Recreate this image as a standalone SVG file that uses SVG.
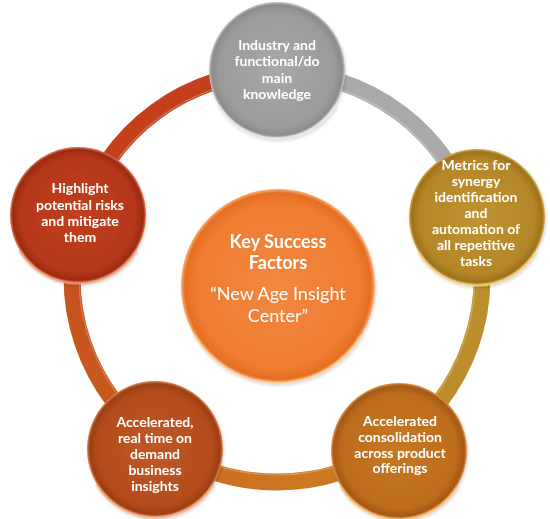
<svg xmlns="http://www.w3.org/2000/svg" width="550" height="519" viewBox="0 0 550 519">
<defs>
  <radialGradient id="gGray" cx="50%" cy="50%" r="50%">
    <stop offset="0" stop-color="#a8a8a8"/>
    <stop offset="0.85" stop-color="#9b9b9b"/>
    <stop offset="0.96" stop-color="#8c8c8c"/>
    <stop offset="1" stop-color="#c8c8c8"/>
  </radialGradient>
  <radialGradient id="gGold" cx="50%" cy="50%" r="50%">
    <stop offset="0" stop-color="#bf9432"/>
    <stop offset="0.85" stop-color="#b48628"/>
    <stop offset="0.96" stop-color="#9e721c"/>
    <stop offset="1" stop-color="#d8b050"/>
  </radialGradient>
  <radialGradient id="gBR" cx="50%" cy="50%" r="50%">
    <stop offset="0" stop-color="#c67824"/>
    <stop offset="0.85" stop-color="#bc6c1c"/>
    <stop offset="0.96" stop-color="#a65814"/>
    <stop offset="1" stop-color="#e09a50"/>
  </radialGradient>
  <radialGradient id="gBL" cx="50%" cy="50%" r="50%">
    <stop offset="0" stop-color="#bf5824"/>
    <stop offset="0.85" stop-color="#b44c1c"/>
    <stop offset="0.96" stop-color="#9c3e12"/>
    <stop offset="1" stop-color="#de8a5a"/>
  </radialGradient>
  <radialGradient id="gLeft" cx="50%" cy="50%" r="50%">
    <stop offset="0" stop-color="#c04020"/>
    <stop offset="0.85" stop-color="#b4371a"/>
    <stop offset="0.96" stop-color="#9c2b10"/>
    <stop offset="1" stop-color="#de7a5a"/>
  </radialGradient>
  <radialGradient id="gCenter" cx="50%" cy="50%" r="50%">
    <stop offset="0" stop-color="#f28842"/>
    <stop offset="0.85" stop-color="#ef7c30"/>
    <stop offset="0.96" stop-color="#e56e22"/>
    <stop offset="1" stop-color="#f8b074"/>
  </radialGradient>
  <linearGradient id="aBottom" gradientUnits="userSpaceOnUse" x1="394" y1="445" x2="158" y2="444">
    <stop offset="0" stop-color="#c9801f"/>
    <stop offset="1" stop-color="#d06a1f"/>
  </linearGradient>
  <linearGradient id="aLeftLow" gradientUnits="userSpaceOnUse" x1="158" y1="444" x2="81" y2="216">
    <stop offset="0" stop-color="#c95c1f"/>
    <stop offset="1" stop-color="#c5501d"/>
  </linearGradient>
  <linearGradient id="aRightLow" gradientUnits="userSpaceOnUse" x1="473" y1="218" x2="394" y2="445">
    <stop offset="0" stop-color="#b8922e"/>
    <stop offset="1" stop-color="#c08a28"/>
  </linearGradient>
  <filter id="sh" x="-20%" y="-20%" width="140%" height="140%">
    <feDropShadow dx="1" dy="1.5" stdDeviation="1.5" flood-color="#000" flood-opacity="0.18"/>
  </filter>
</defs>
<style>
  .arc { fill: none; stroke-width: 17; }
  .hl { fill: none; stroke-width: 1.2; stroke: #ffffff; opacity: 0.25; }
  .node { filter: url(#sh); }
  .rim { fill: none; stroke-width: 2.5; stroke-linecap: round; opacity: 0.75; }
  .t { font-family: Lato, "Open Sans", "Liberation Sans", sans-serif; font-weight: bold; font-size: 14px; fill: #ffffff; text-anchor: middle; }
  .ct { font-family: Lato, "Open Sans", "Liberation Sans", sans-serif; font-size: 18px; fill: #ffffff; text-anchor: middle; }
</style>
<g id="connectors">
  <path class="arc" stroke="#a9a9a9" d="M277,72 A205,205 0 0 1 473.4,218.1"/>
  <path class="arc" stroke="url(#aRightLow)" d="M473.4,218.1 A205,205 0 0 1 394.6,444.9"/>
  <path class="arc" stroke="url(#aBottom)" d="M394.6,444.9 A205,205 0 0 1 158.2,444.1"/>
  <path class="arc" stroke="url(#aLeftLow)" d="M158.2,444.1 A205,205 0 0 1 81.3,216"/>
  <path class="arc" stroke="#c4401c" d="M81.3,216 A205,205 0 0 1 277,72"/>
  <circle class="hl" cx="277" cy="277" r="198"/>
</g>
<g id="center" class="node">
  <circle cx="278" cy="286" r="97" fill="url(#gCenter)"/>
  <path class="rim" stroke="#fcd0a0" d="M195,336 A97,97 0 0 0 361,336"/>
  <text class="ct" font-weight="bold" x="278" y="248">Key Success</text>
  <text class="ct" font-weight="bold" x="278" y="269">Factors</text>
  <text class="ct" x="278" y="300">“New Age Insight</text>
  <text class="ct" x="278" y="322">Center”</text>
</g>
<g id="node-top" class="node">
  <circle cx="277" cy="70" r="68" fill="url(#gGray)"/>
  <path class="rim" stroke="#e4e4e4" d="M219,106 A68,68 0 0 0 335,106"/>
  <text class="t" x="277" y="50">Industry and</text>
  <text class="t" x="277" y="66.3">functional/do</text>
  <text class="t" x="277" y="82.6">main</text>
  <text class="t" x="277" y="99">knowledge</text>
</g>
<g id="node-right" class="node">
  <circle cx="477" cy="217" r="68" fill="url(#gGold)"/>
  <path class="rim" stroke="#f0d080" d="M419,253 A68,68 0 0 0 535,253"/>
  <text class="t" x="476" y="170">Metrics for</text>
  <text class="t" x="476" y="186">synergy</text>
  <text class="t" x="476" y="202">identification</text>
  <text class="t" x="476" y="218">and</text>
  <text class="t" x="476" y="234">automation of</text>
  <text class="t" x="476" y="250">all repetitive</text>
  <text class="t" x="476" y="266">tasks</text>
</g>
<g id="node-bottom-right" class="node">
  <circle cx="399" cy="451" r="68" fill="url(#gBR)"/>
  <path class="rim" stroke="#f4bc70" d="M341,487 A68,68 0 0 0 457,487"/>
  <text class="t" x="400" y="426">Accelerated</text>
  <text class="t" x="400" y="442">consolidation</text>
  <text class="t" x="400" y="457.5">across product</text>
  <text class="t" x="400" y="473">offerings</text>
</g>
<g id="node-bottom-left" class="node">
  <circle cx="155" cy="449" r="68" fill="url(#gBL)"/>
  <path class="rim" stroke="#f0a878" d="M97,485 A68,68 0 0 0 213,485"/>
  <text class="t" x="155" y="427">Accelerated,</text>
  <text class="t" x="155" y="443">real time on</text>
  <text class="t" x="155" y="459">demand</text>
  <text class="t" x="155" y="475">business</text>
  <text class="t" x="155" y="491">insights</text>
</g>
<g id="node-left" class="node">
  <circle cx="78" cy="215" r="68" fill="url(#gLeft)"/>
  <path class="rim" stroke="#f09878" d="M20,251 A68,68 0 0 0 136,251"/>
  <text class="t" x="80" y="193">Highlight</text>
  <text class="t" x="80" y="210">potential risks</text>
  <text class="t" x="80" y="226">and mitigate</text>
  <text class="t" x="80" y="242">them</text>
</g>
</svg>
